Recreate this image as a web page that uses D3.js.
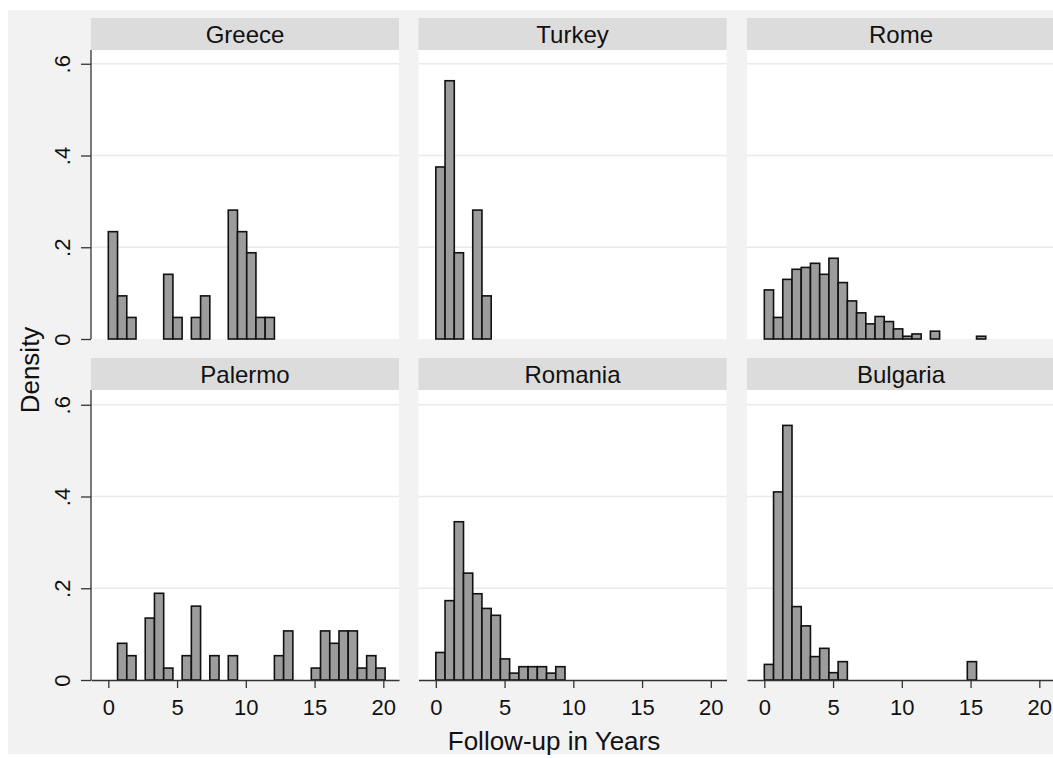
<!DOCTYPE html>
<html>
<head>
<meta charset="utf-8">
<script src="https://cdn.jsdelivr.net/npm/d3@7"></script>
<style>
  body { margin: 0; background: #fff; }
  text { font-family: "Liberation Sans", Arial, sans-serif; fill: #111; }
</style>
</head>
<body>
<div id="chart"></div>
<script>
// histogram bins (common to all panels)
var binStart = 0;
var binWidth = 0.671;

var panelNames = ["Greece", "Turkey", "Rome", "Palermo", "Romania", "Bulgaria"];

// bin index and density of every non-empty bin
var greeceBins = [0, 1, 2, 6, 7, 9, 10, 13, 14, 15, 16, 17];
var greeceDensity = [0.234, 0.094, 0.047, 0.141, 0.047, 0.047, 0.094, 0.281, 0.234, 0.188, 0.047, 0.047];

var turkeyBins = [0, 1, 2, 4, 5];
var turkeyDensity = [0.375, 0.563, 0.188, 0.281, 0.094];

var romeBins = [0, 1, 2, 3, 4, 5, 6, 7, 8, 9, 10, 11, 12, 13, 14, 15, 16, 18, 23];
var romeDensity = [0.107, 0.047, 0.130, 0.152, 0.156, 0.165, 0.141, 0.176, 0.123, 0.083,
                   0.057, 0.033, 0.049, 0.038, 0.022, 0.006, 0.011, 0.017, 0.006];

var palermoBins = [1, 2, 4, 5, 6, 8, 9, 11, 13, 18, 19, 22, 23, 24, 25, 26, 27, 28, 29];
var palermoDensity = [0.080, 0.053, 0.135, 0.189, 0.026, 0.053, 0.161, 0.053, 0.053, 0.053,
                      0.107, 0.026, 0.107, 0.080, 0.107, 0.107, 0.026, 0.053, 0.026];

var romaniaBins = [0, 1, 2, 3, 4, 5, 6, 7, 8, 9, 10, 11, 12, 13];
var romaniaDensity = [0.060, 0.173, 0.345, 0.233, 0.188, 0.156, 0.141, 0.046, 0.015, 0.029,
                      0.029, 0.029, 0.015, 0.029];

var bulgariaBins = [0, 1, 2, 3, 4, 5, 6, 7, 8, 22];
var bulgariaDensity = [0.034, 0.410, 0.555, 0.160, 0.118, 0.051, 0.069, 0.016, 0.040, 0.040];

var yTicks = [0, 0.2, 0.4, 0.6];
var xTicks = [0, 5, 10, 15, 20];

var panelBins = [greeceBins, turkeyBins, romeBins, palermoBins, romaniaBins, bulgariaBins];
var panelDensity = [greeceDensity, turkeyDensity, romeDensity, palermoDensity, romaniaDensity, bulgariaDensity];

// layout
var svgWidth = 1053, svgHeight = 758;
var colLeft = [91, 418.5, 747];
var plotW = 308;
var headerTop = [18, 358];
var headerH = 32;
var rowBase = [339, 680];
var plotH = 289;

var svg = d3.select("#chart").append("svg")
  .attr("width", svgWidth)
  .attr("height", svgHeight);

// graph region background
svg.append("rect")
  .attr("x", 8).attr("y", 10)
  .attr("width", svgWidth - 8).attr("height", svgHeight - 14)
  .attr("fill", "#f2f2f2");

function fmtY(d) {
  return d === 0 ? "0" : d3.format(".1f")(d).replace(/^0/, "");
}

panelNames.forEach(function(name, i) {
  var col = i % 3, row = Math.floor(i / 3);
  var left = colLeft[col];
  var base = rowBase[row];
  var top = headerTop[row] + headerH;

  var xScale = d3.scaleLinear()
    .domain([-1.26, 21.14])
    .range([left, left + plotW]);

  var yScale = d3.scaleLinear()
    .domain([0, 0.63])
    .range([base, base - plotH]);

  var g = svg.append("g");

  // header strip
  g.append("rect")
    .attr("x", left).attr("y", headerTop[row])
    .attr("width", plotW).attr("height", headerH)
    .attr("fill", "#dcdcdc");
  g.append("text")
    .attr("x", left + plotW / 2)
    .attr("y", headerTop[row] + headerH / 2)
    .attr("dy", "0.36em")
    .attr("text-anchor", "middle")
    .style("font-size", "24px")
    .text(name);

  // plot region
  g.append("rect")
    .attr("x", left).attr("y", top)
    .attr("width", plotW).attr("height", base - top)
    .attr("fill", "#fff");

  // grid lines
  g.selectAll(".grid")
    .data(yTicks.filter(function(d) { return d > 0; }))
    .enter().append("line")
    .attr("x1", left).attr("x2", left + plotW)
    .attr("y1", function(d) { return yScale(d); })
    .attr("y2", function(d) { return yScale(d); })
    .attr("stroke", "#eaeaea")
    .attr("stroke-width", 1.5);

  // bars
  var bars = panelBins[i].map(function(b, k) {
    return { x0: binStart + b * binWidth, x1: binStart + (b + 1) * binWidth, d: panelDensity[i][k] };
  });
  g.selectAll(".bar")
    .data(bars)
    .enter().append("rect")
    .attr("x", function(d) { return xScale(d.x0); })
    .attr("width", function(d) { return xScale(d.x1) - xScale(d.x0); })
    .attr("y", function(d) { return yScale(d.d); })
    .attr("height", function(d) { return yScale(0) - yScale(d.d); })
    .attr("fill", "#9c9c9c")
    .attr("stroke", "#111")
    .attr("stroke-width", 1.6);

  // y axis on the first column
  if (col === 0) {
    var yAxis = d3.axisLeft(yScale)
      .tickValues(yTicks)
      .tickSize(10)
      .tickSizeOuter(0)
      .tickFormat(fmtY);
    var ya = g.append("g")
      .attr("transform", "translate(" + left + ",0)")
      .call(yAxis);
    ya.select(".domain")
      .attr("d", "M0," + top + "V" + base)
      .attr("stroke", "#333").attr("stroke-width", 1.3);
    ya.selectAll(".tick line").attr("stroke", "#333").attr("stroke-width", 1.3);
    ya.selectAll(".tick text")
      .attr("transform", "rotate(-90)")
      .attr("x", 0)
      .attr("y", -29)
      .attr("dy", "0.36em")
      .attr("text-anchor", "middle")
      .style("font-size", "22px")
      .style("font-family", "Liberation Sans, Arial, sans-serif")
      .attr("fill", "#111");
  }

  // x axis on the bottom row
  if (row === 1) {
    var xAxis = d3.axisBottom(xScale)
      .tickValues(xTicks)
      .tickSize(8)
      .tickSizeOuter(0);
    var xa = g.append("g")
      .attr("transform", "translate(0," + base + ")")
      .call(xAxis);
    xa.select(".domain").attr("stroke", "#333").attr("stroke-width", 1.3);
    xa.selectAll(".tick line").attr("stroke", "#333").attr("stroke-width", 1.3);
    xa.selectAll(".tick text")
      .attr("y", 19)
      .attr("dy", "0.71em")
      .style("font-size", "22px")
      .style("font-family", "Liberation Sans, Arial, sans-serif")
      .attr("fill", "#111");
  }
});

// axis titles
svg.append("text")
  .attr("x", 554)
  .attr("y", 741)
  .attr("dy", "0.36em")
  .attr("text-anchor", "middle")
  .style("font-size", "26px")
  .text("Follow-up in Years");

svg.append("text")
  .attr("transform", "translate(30,370) rotate(-90)")
  .attr("dy", "0.36em")
  .attr("text-anchor", "middle")
  .style("font-size", "26px")
  .text("Density");
</script>
</body>
</html>
